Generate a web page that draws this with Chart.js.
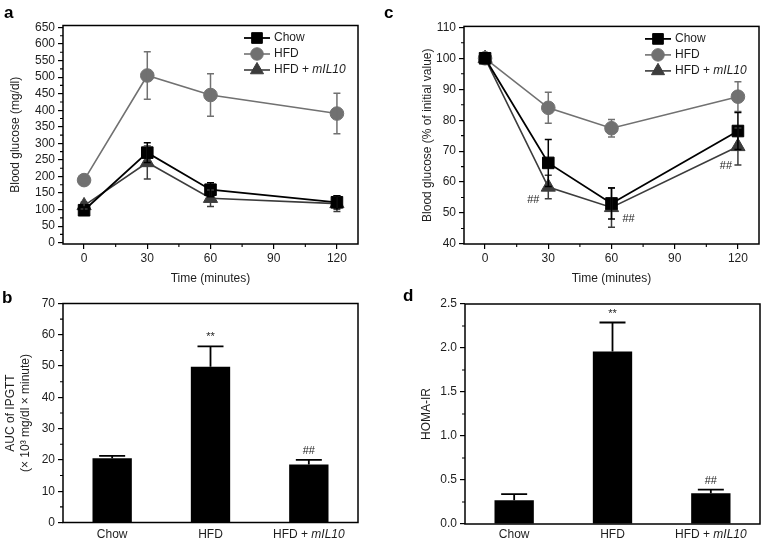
<!DOCTYPE html>
<html>
<head>
<meta charset="utf-8">
<script src="https://cdn.jsdelivr.net/npm/chart.js@4.4.1/dist/chart.umd.min.js"></script>
<style>
html,body{margin:0;padding:0;background:#fff;}
#wrap{position:relative;width:762px;height:542px;overflow:hidden;font-family:"Liberation Sans",Arial,Helvetica,sans-serif;}
canvas{position:absolute;}
.lbl{position:absolute;font-weight:bold;font-size:17px;line-height:17px;color:#000;}
</style>
</head>
<body>
<div id="wrap">
  <canvas id="ca" width="381" height="290" style="left:0;top:0"></canvas>
  <canvas id="cc" width="381" height="290" style="left:381px;top:0"></canvas>
  <canvas id="cb" width="381" height="257" style="left:0;top:285px"></canvas>
  <canvas id="cd" width="381" height="257" style="left:381px;top:285px"></canvas>
  <div class="lbl" style="left:4px;top:4px">a</div>
  <div class="lbl" style="left:384px;top:4px">c</div>
  <div class="lbl" style="left:2px;top:289px">b</div>
  <div class="lbl" style="left:403px;top:287px">d</div>
</div>
<script>
// ---------------- DATA ----------------
const timePoints = [0, 30, 60, 120];
const seriesNames = ['Chow', 'HFD', 'HFD + mIL10'];

// panel a: blood glucose (mg/dl)
const glucoseChow    = [98, 272, 160, 122];
const glucoseChowErr = [10, 30, 21, 20];
const glucoseHFD     = [189, 505, 446, 390];
const glucoseHFDErr  = [8, 72, 64, 61];
const glucoseIL10    = [112, 242, 134, 118];
const glucoseIL10Err = [10, 50, 25, 24];

// panel c: blood glucose (% of initial value)
const pctChow    = [100, 66.2, 53.1, 76.5];
const pctChowErr = [0, 7.6, 5, 6];
const pctHFD     = [100, 84, 77.4, 87.6];
const pctHFDErr  = [0, 5, 2.8, 4.8];
const pctIL10    = [100, 58.4, 51.8, 71.5];
const pctIL10Err = [0, 3.8, 6.4, 6];
const pctIL10Marks = ['', '##', '##', '##'];

// panel b: AUC of IPGTT
const barGroups = ['Chow', 'HFD', 'HFD + mIL10'];
const aucValues = [20.5, 49.8, 18.5];
const aucErr    = [0.8, 6.5, 1.5];
const aucMarks  = ['', '**', '##'];

// panel d: HOMA-IR
const homaValues = [0.27, 1.96, 0.35];
const homaErr    = [0.07, 0.33, 0.04];
const homaMarks  = ['', '**', '##'];

// tick labels
const timeTicks    = [0, 30, 60, 90, 120];
const glucoseTicks = [0, 50, 100, 150, 200, 250, 300, 350, 400, 450, 500, 550, 600, 650];
const pctTicks     = [40, 50, 60, 70, 80, 90, 100, 110];
const aucTicks     = [0, 10, 20, 30, 40, 50, 60, 70];
const homaTicks    = [0, 0.5, 1.0, 1.5, 2.0, 2.5];

// ---------------- STYLE ----------------
const FONT = '"Liberation Sans", Arial, Helvetica, sans-serif';
const TXT = '#1e1e1e';
Chart.defaults.font.family = FONT;
Chart.defaults.font.size = 12;
Chart.defaults.color = TXT;
Chart.defaults.animation = false;

const SER = [
  {color: '#000000', style: 'rect', r: 8.2, lw: 1.8},
  {color: '#717171', style: 'circle', r: 6.8, lw: 1.6},
  {color: '#3c3c3c', style: 'triangle', r: 8.2, lw: 1.6}
];

function drawRich(ctx, text, x, y, align, size, color) {
  const idx = text.indexOf('mIL10');
  const normal = size + 'px ' + FONT;
  const ital = 'italic ' + size + 'px ' + FONT;
  let parts = idx >= 0 ? [[text.slice(0, idx), normal], ['mIL10', ital], [text.slice(idx + 5), normal]] : [[text, normal]];
  parts = parts.filter(p => p[0].length);
  let total = 0;
  parts.forEach(p => { ctx.font = p[1]; p.push(ctx.measureText(p[0]).width); total += p[2]; });
  let cx = align === 'center' ? x - total / 2 : (align === 'right' ? x - total : x);
  ctx.fillStyle = color;
  ctx.textAlign = 'left';
  ctx.textBaseline = 'middle';
  parts.forEach(p => { ctx.font = p[1]; ctx.fillText(p[0], cx, y); cx += p[2]; });
}

function drawMarker(ctx, style, x, y, r, color) {
  ctx.fillStyle = color;
  ctx.strokeStyle = color;
  ctx.lineWidth = 1;
  ctx.beginPath();
  if (style === 'rect') {
    const s = Math.SQRT1_2 * r;
    ctx.rect(x - s, y - s, 2 * s, 2 * s);
  } else if (style === 'circle') {
    ctx.arc(x, y, r, 0, Math.PI * 2);
  } else {
    let rad = 0;
    ctx.moveTo(x + Math.sin(rad) * r, y - Math.cos(rad) * r);
    rad += 2 * Math.PI / 3;
    ctx.lineTo(x + Math.sin(rad) * r, y - Math.cos(rad) * r);
    rad += 2 * Math.PI / 3;
    ctx.lineTo(x + Math.sin(rad) * r, y - Math.cos(rad) * r);
    ctx.closePath();
  }
  ctx.fill();
  ctx.stroke();
}

function decoPlugin(cfg) {
  return {
    id: 'deco',
    afterDatasetsDraw(chart) {
      const ctx = chart.ctx, a = chart.chartArea;
      const xs = chart.scales.x, ys = chart.scales.y;
      ctx.save();
      // error bars
      (cfg.errors || []).forEach(e => {
        ctx.strokeStyle = e.color;
        ctx.lineWidth = e.lw;
        e.values.forEach((v, i) => {
          const err = e.errs[i];
          if (!err) return;
          const px = xs.getPixelForValue(e.xv ? e.xv[i] : i);
          const top = ys.getPixelForValue(v + err);
          const bot = e.up ? ys.getPixelForValue(v) : ys.getPixelForValue(v - err);
          ctx.beginPath();
          ctx.moveTo(px, top); ctx.lineTo(px, bot);
          ctx.moveTo(px - e.cap, top); ctx.lineTo(px + e.cap, top);
          if (!e.up) { ctx.moveTo(px - e.cap, bot); ctx.lineTo(px + e.cap, bot); }
          ctx.stroke();
        });
      });
      ctx.restore();
    },
    afterDraw(chart) {
      const ctx = chart.ctx, a = chart.chartArea;
      const xs = chart.scales.x, ys = chart.scales.y;
      ctx.save();
      // frame
      ctx.strokeStyle = '#000';
      ctx.lineWidth = 1.5;
      ctx.strokeRect(a.left, a.top, a.right - a.left, a.bottom - a.top);
      // minor ticks
      ctx.lineWidth = 1.1;
      ctx.beginPath();
      if (cfg.minorY) {
        const t = cfg.minorY;
        for (let i = 0; i < t.length - 1; i++) {
          const py = ys.getPixelForValue((t[i] + t[i + 1]) / 2);
          ctx.moveTo(a.left, py); ctx.lineTo(a.left - 3, py);
        }
      }
      if (cfg.minorX) {
        const t = cfg.minorX;
        for (let i = 0; i < t.length - 1; i++) {
          const px = xs.getPixelForValue((t[i] + t[i + 1]) / 2);
          ctx.moveTo(px, a.bottom); ctx.lineTo(px, a.bottom + 3);
        }
      }
      ctx.stroke();
      // legend
      if (cfg.legend) {
        const rows = [12.5, 28.5, 44.5];
        seriesNames.forEach((name, k) => {
          const s = SER[k];
          const y = a.top + rows[k];
          ctx.strokeStyle = s.color;
          ctx.lineWidth = s.lw;
          ctx.beginPath();
          ctx.moveTo(a.right - 114, y); ctx.lineTo(a.right - 88, y);
          ctx.stroke();
          drawMarker(ctx, s.style, a.right - 101, y, s.r * 0.92, s.color);
          drawRich(ctx, name, a.right - 84, y, 'left', 12, TXT);
        });
      }
      // category labels
      if (cfg.catLabels) {
        cfg.catLabels.forEach((lab, i) => {
          drawRich(ctx, lab, xs.getPixelForValue(i), a.bottom + cfg.catOffset, 'center', 12, TXT);
        });
      }
      // significance marks
      if (cfg.marks) {
        const m = cfg.marks;
        m.text.forEach((t, i) => {
          if (!t) return;
          let px, py;
          if (m.above) {
            px = xs.getPixelForValue(i);
            py = ys.getPixelForValue(m.values[i] + m.errs[i]) - 9;
          } else {
            px = xs.getPixelForValue(m.xv[i]) + m.off[i][0];
            py = ys.getPixelForValue(m.values[i]) + m.off[i][1];
          }
          ctx.font = '11px ' + FONT;
          ctx.fillStyle = TXT;
          ctx.textAlign = 'center';
          ctx.textBaseline = 'middle';
          ctx.fillText(t, px, py);
        });
      }
      ctx.restore();
    }
  };
}

function lineData(vals) {
  return vals.map((v, k) => ({
    label: seriesNames[k],
    data: timePoints.map((t, i) => ({x: t, y: v[i]})),
    borderColor: SER[k].color,
    backgroundColor: SER[k].color,
    borderWidth: SER[k].lw,
    pointStyle: SER[k].style,
    pointRadius: SER[k].r,
    pointBorderWidth: 1,
    pointBackgroundColor: SER[k].color,
    pointBorderColor: SER[k].color,
    tension: 0,
    clip: false
  }));
}

function yScale(ticks, min, max, width, title, titlePad, fmt) {
  return {
    type: 'linear', min: min, max: max,
    afterBuildTicks: s => { s.ticks = ticks.map(v => ({value: v})); },
    afterFit: s => { s.width = width; },
    grid: {display: true, drawOnChartArea: false, drawTicks: true, tickLength: 5, color: '#000', lineWidth: 1.2},
    border: {display: false},
    ticks: {padding: 3, color: TXT, font: {size: 12}, autoSkip: false, callback: fmt || (v => String(v))},
    title: {display: true, text: title, color: TXT, font: {size: 12, lineHeight: 1.3}, padding: {top: titlePad, bottom: 0}}
  };
}

function timeScale() {
  return {
    type: 'linear', min: -10, max: 130,
    afterBuildTicks: s => { s.ticks = timeTicks.map(v => ({value: v})); },
    afterFit: s => { s.height = 46; },
    grid: {display: true, drawOnChartArea: false, drawTicks: true, tickLength: 5, color: '#000', lineWidth: 1.2},
    border: {display: false},
    ticks: {padding: 2, color: TXT, font: {size: 12}, autoSkip: false, maxRotation: 0},
    title: {display: true, text: 'Time (minutes)', color: TXT, font: {size: 12}, padding: {top: 0, bottom: 4.3}}
  };
}

function catScale(h) {
  return {
    type: 'category', offset: true,
    afterFit: s => { s.height = h; },
    grid: {display: false},
    border: {display: false},
    ticks: {display: false}
  };
}

const common = {
  responsive: false,
  animation: false,
  events: [],
  plugins: {legend: {display: false}, tooltip: {enabled: false}}
};

// ---------- panel a ----------
new Chart(document.getElementById('ca'), {
  type: 'line',
  data: {datasets: lineData([glucoseChow, glucoseHFD, glucoseIL10])},
  options: Object.assign({}, common, {
    layout: {autoPadding: false, padding: {left: 0, top: 25.5, right: 23, bottom: 0}},
    scales: {
      x: timeScale(),
      y: yScale(glucoseTicks, -4, 656, 63, 'Blood glucose (mg/dl)', 8.3)
    }
  }),
  plugins: [decoPlugin({
    legend: true, minorX: timeTicks, minorY: glucoseTicks,
    errors: [
      {values: glucoseHFD, errs: glucoseHFDErr, xv: timePoints, color: SER[1].color, lw: 1.5, cap: 3.5},
      {values: glucoseIL10, errs: glucoseIL10Err, xv: timePoints, color: SER[2].color, lw: 1.5, cap: 3.5},
      {values: glucoseChow, errs: glucoseChowErr, xv: timePoints, color: SER[0].color, lw: 1.5, cap: 3.5}
    ]
  })]
});

// ---------- panel c ----------
new Chart(document.getElementById('cc'), {
  type: 'line',
  data: {datasets: lineData([pctChow, pctHFD, pctIL10])},
  options: Object.assign({}, common, {
    layout: {autoPadding: false, padding: {left: 0, top: 26.4, right: 3, bottom: 0}},
    scales: {
      x: timeScale(),
      y: yScale(pctTicks, 40, 110.3, 83, 'Blood glucose (% of initial value)', 38.8)
    }
  }),
  plugins: [decoPlugin({
    legend: true, minorX: timeTicks, minorY: pctTicks,
    errors: [
      {values: pctHFD, errs: pctHFDErr, xv: timePoints, color: SER[1].color, lw: 1.5, cap: 3.5},
      {values: pctIL10, errs: pctIL10Err, xv: timePoints, color: SER[2].color, lw: 1.5, cap: 3.5},
      {values: pctChow, errs: pctChowErr, xv: timePoints, color: SER[0].color, lw: 1.5, cap: 3.5}
    ],
    marks: {text: pctIL10Marks, values: pctIL10, xv: timePoints, off: [[0, 0], [-15, 13], [17, 11], [-12, 19]]}
  })]
});

// ---------- panel b ----------
new Chart(document.getElementById('cb'), {
  type: 'bar',
  data: {labels: barGroups, datasets: [{data: aucValues, backgroundColor: '#000', borderWidth: 0, barPercentage: 0.4, categoryPercentage: 1}]},
  options: Object.assign({}, common, {
    layout: {autoPadding: false, padding: {left: 0, top: 18.5, right: 23, bottom: 0}},
    scales: {
      x: catScale(19.5),
      y: yScale(aucTicks, 0, 70, 63, ['AUC of IPGTT', '(\u00d7 10\u00b3 mg/dl \u00d7 minute)'], 2.5)
    }
  }),
  plugins: [decoPlugin({
    minorY: aucTicks, catLabels: barGroups, catOffset: 12,
    errors: [{values: aucValues, errs: aucErr, color: '#000', lw: 1.8, cap: 13, up: true}],
    marks: {above: true, text: aucMarks, values: aucValues, errs: aucErr}
  })]
});

// ---------- panel d ----------
new Chart(document.getElementById('cd'), {
  type: 'bar',
  data: {labels: barGroups, datasets: [{data: homaValues, backgroundColor: '#000', borderWidth: 0, barPercentage: 0.4, categoryPercentage: 1}]},
  options: Object.assign({}, common, {
    layout: {autoPadding: false, padding: {left: 0, top: 19, right: 2, bottom: 0}},
    scales: {
      x: catScale(18),
      y: yScale(homaTicks, 0, 2.5, 84, 'HOMA-IR', 37.8, v => v.toFixed(1))
    }
  }),
  plugins: [decoPlugin({
    minorY: homaTicks, catLabels: barGroups, catOffset: 10.5,
    errors: [{values: homaValues, errs: homaErr, color: '#000', lw: 1.8, cap: 13, up: true}],
    marks: {above: true, text: homaMarks, values: homaValues, errs: homaErr}
  })]
});
</script>
</body>
</html>
